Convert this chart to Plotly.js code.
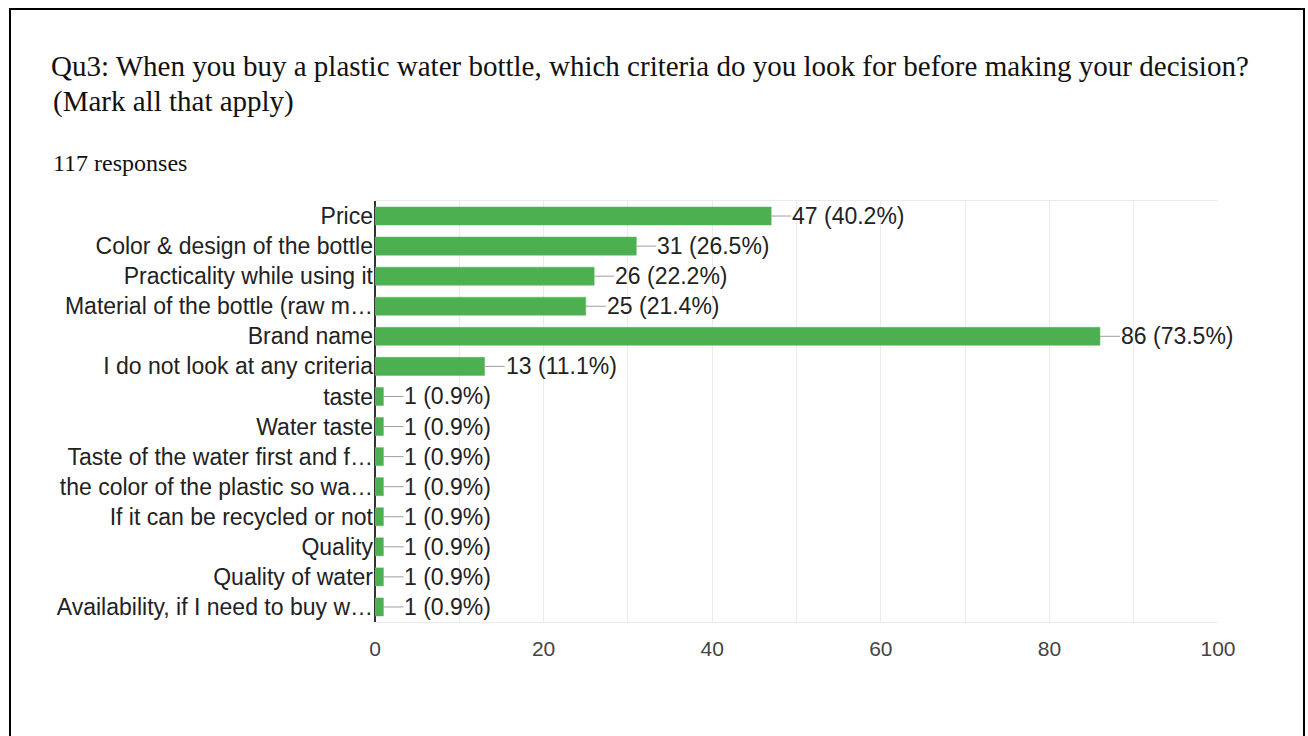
<!DOCTYPE html>
<html>
<head>
<meta charset="utf-8">
<script src="https://cdn.plot.ly/plotly-3.0.1.min.js"></script>
<style>
html,body{margin:0;padding:0;background:#fff;overflow:hidden;}
#wrap{position:relative;width:1308px;height:736px;}
#chart{position:absolute;left:0;top:0;width:1308px;height:736px;}
#frame{position:absolute;left:9px;top:8px;width:1296px;height:760px;border:2px solid #000;box-sizing:border-box;pointer-events:none;}
</style>
</head>
<body>
<div id="wrap">
<div id="chart"></div>
<div id="frame"></div>
</div>
<script>
const categories = [
  "Price",
  "Color & design of the bottle",
  "Practicality while using it",
  "Material of the bottle (raw m…",
  "Brand name",
  "I do not look at any criteria",
  "taste",
  "Water taste",
  "Taste of the water first and f…",
  "the color of the plastic so wa…",
  "If it can be recycled or not",
  "Quality",
  "Quality of water",
  "Availability, if I need to buy w…"
];
const counts = [47, 31, 26, 25, 86, 13, 1, 1, 1, 1, 1, 1, 1, 1];
const percents = ["40.2%", "26.5%", "22.2%", "21.4%", "73.5%", "11.1%", "0.9%", "0.9%", "0.9%", "0.9%", "0.9%", "0.9%", "0.9%", "0.9%"];
const xTicks = [0, 20, 40, 60, 80, 100];

const titleLine1 = "Qu3: When you buy a plastic water bottle, which criteria do you look for before making your decision?";
const titleLine2 = "(Mark all that apply)";
const subtitleText = "117 responses";

const trace = {
  type: "bar",
  orientation: "h",
  y: categories,
  x: counts,
  marker: {color: "#4caf50", line: {color: "#5cb860", width: 0.5}},
  hoverinfo: "skip"
};

const serif = "Liberation Serif, Times New Roman, serif";
const sans = "Liberation Sans, Arial, sans-serif";

const annotations = categories.map((c, i) => ({
  x: counts[i], y: c, xref: "x", yref: "y",
  text: counts[i] + " (" + percents[i] + ")",
  showarrow: true, arrowhead: 0, arrowwidth: 1, arrowcolor: "#9e9e9e",
  ax: 20, ay: 0, standoff: 0, startstandoff: 0,
  xanchor: "left", yanchor: "middle",
  borderpad: 0,
  font: {family: sans, size: 23, color: "#222"}
}));

// second title line and response count (paper coords relative to plot area 375..1218 x 201..622)
annotations.push({
  xref: "paper", yref: "paper",
  x: (51 - 375) / 843, y: 1 + (201 - 101) / 421,
  xanchor: "left", yanchor: "middle",
  text: titleLine2, showarrow: false,
  font: {family: serif, size: 29, color: "#111"}
});
annotations.push({
  xref: "paper", yref: "paper",
  x: (51 - 375) / 843, y: 1 + (201 - 163) / 421,
  xanchor: "left", yanchor: "middle",
  text: subtitleText, showarrow: false,
  font: {family: serif, size: 24, color: "#111"}
});

const layout = {
  width: 1308, height: 736,
  margin: {l: 375, r: 90, t: 201, b: 114, pad: 0},
  paper_bgcolor: "#fff", plot_bgcolor: "#fff",
  showlegend: false,
  bargap: 0.4,
  title: {
    text: titleLine1,
    xref: "container", yref: "container",
    x: 51 / 1308, xanchor: "left",
    y: 1 - 66 / 736, yanchor: "middle",
    font: {family: serif, size: 29, color: "#111"}
  },
  xaxis: {
    range: [0, 100],
    tickvals: xTicks,
    ticktext: xTicks.map(String),
    showgrid: true, gridcolor: "#ebebeb", gridwidth: 1,
    minor: {dtick: 10, tick0: 0, showgrid: true, gridcolor: "#ebebeb", gridwidth: 1, ticklen: 0},
    zeroline: true, zerolinecolor: "#333", zerolinewidth: 1.5,
    showline: true, linecolor: "#ebebeb", linewidth: 1, mirror: true,
    ticks: "", ticklen: 0,
    ticklabelstandoff: 8,
    tickfont: {family: sans, size: 21, color: "#444"},
    fixedrange: true
  },
  yaxis: {
    type: "category",
    autorange: "reversed",
    showgrid: false, zeroline: false,
    showline: false,
    ticks: "", ticklen: 0,
    ticklabelstandoff: 1,
    tickfont: {family: sans, size: 23, color: "#222"},
    fixedrange: true
  },
  annotations: annotations
};

Plotly.newPlot("chart", [trace], layout, {displayModeBar: false, staticPlot: true});
</script>
</body>
</html>
